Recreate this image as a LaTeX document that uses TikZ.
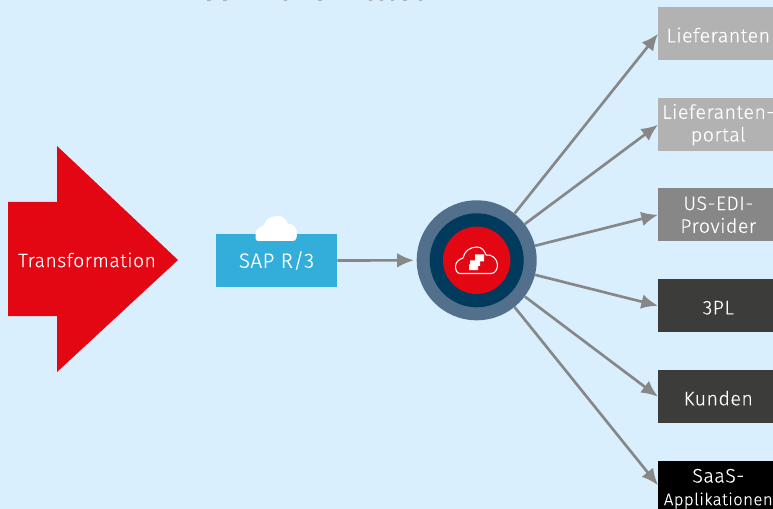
\documentclass[tikz,border=0pt]{standalone}
\usepackage{fontspec}
\setmainfont{Fira Sans}
\usetikzlibrary{arrows.meta}
\definecolor{bgc}{HTML}{D9EFFD}
\definecolor{redc}{HTML}{E30613}
\definecolor{sapc}{HTML}{33AEDB}
\definecolor{arrowc}{HTML}{878787}
\definecolor{ringa}{HTML}{52708C}
\definecolor{ringb}{HTML}{003A5D}
\definecolor{tlight}{HTML}{B2B2B2}
\definecolor{tmid}{HTML}{878787}
\definecolor{tdark}{HTML}{3C3C3B}
\newfontfamily\lblfont[LetterSpace=2.5,FakeBold=0.12]{Fira Sans Light}
\tikzset{
  x=0.75pt,y=-0.75pt,
  target/.style={draw=none,fill=#1,text=white,minimum width=90pt,minimum height=39.75pt,inner sep=0pt,align=center,font=\lblfont\fontsize{14.7}{17}\selectfont,anchor=north west,execute at begin node={\rule{0pt}{13pt}}},
  conn/.style={draw=arrowc,line width=2pt,-{Latex[length=12.5pt,width=11pt]}},
  hubring/.style={circle,inner sep=0pt,draw=none}
}
\begin{document}
\begin{tikzpicture}
\useasboundingbox (0,0) rectangle (773,509);
\fill[bgc] (0,0) rectangle (773,509);
% clipped title remains
\foreach \a/\b in {207/211,223/227,284/287,318/322,369/372,380/383,391/394,403/407,419/422}{\fill[gray!60] (\a,0) rectangle (\b,1);}
% big arrow
\fill[redc] (8,202)--(57,202)--(57,146)--(178,260)--(57,372)--(57,316)--(8,316)--cycle;
\node[text=white,font=\lblfont\fontsize{14.5}{15}\selectfont,inner sep=0pt] (trans) at (87,260) {Transformation};
% SAP
\node[fill=sapc,text=white,minimum width=90.75pt,minimum height=39.75pt,inner sep=0pt,font=\lblfont\fontsize{15.5}{15}\selectfont] (sap) at (276.5,260.5) {\rule{0pt}{12pt}SAP R/3};
\fill[white] (258,241) to[out=180,in=270] (255.5,234) to[out=90,in=210] (264,225)
  to[out=80,in=180] (278,216) to[out=0,in=110] (288,224) to[out=10,in=90] (297,233)
  to[out=270,in=0] (293,241) -- cycle;
% hub
\node[hubring,fill=ringa,minimum size=90pt] (hub) at (476.7,260.3) {};
\node[hubring,fill=ringb,minimum size=70.5pt] (hubm) at (476.7,260.3) {};
\node[hubring,fill=redc,minimum size=50.5pt] (hubi) at (476.7,260.3) {};
% icon
\draw[white,line width=0.8pt,line join=round] (460,273.5) to[out=180,in=270] (455.5,266.5) to[out=90,in=200] (463,258)
  to[out=80,in=180] (477,247) to[out=0,in=110] (486,255) to[out=10,in=90] (497.5,265) to[out=270,in=0] (491,273.5) -- cycle;
\fill[white] (475,254.5) rectangle (484,261.5) (470,260.5) rectangle (480,266) (469,264.5) rectangle (478,270);
% targets
\node[target=tlight] (t1) at (658,7) {Lieferanten};
\node[target=tlight,execute at begin node={\rule{0pt}{16.5pt}}] (t2) at (658,98) {Lieferanten-\\portal};
\node[target=tmid,execute at begin node={\rule{0pt}{16.5pt}}] (t3) at (658,188) {US-EDI-\\Provider};
\node[target=tdark,execute at begin node={\rule{0pt}{11pt}}] (t4) at (658,279) {3PL};
\node[target=tdark] (t5) at (658,370) {Kunden};
\node[target=black,minimum height=36pt,execute at begin node={}] (t6) at (658,461) {\rule{0pt}{15.5pt}SaaS-\\{\fontsize{12.6}{15}\selectfont Applikationen}};
% connectors
\draw[conn,shorten >=2pt] (sap.east) -- (hub.west);
\draw[conn] (hub.51.6) -- (t1.west);
\draw[conn] (hub.37) -- (t2.west);
\draw[conn] (hub.14.7) -- (t3.west);
\draw[conn] (hub.-14.7) -- (t4.west);
\draw[conn] (hub.-37) -- (t5.west);
\draw[conn] (hub.-51.6) -- (t6.west);
\end{tikzpicture}
\end{document}
